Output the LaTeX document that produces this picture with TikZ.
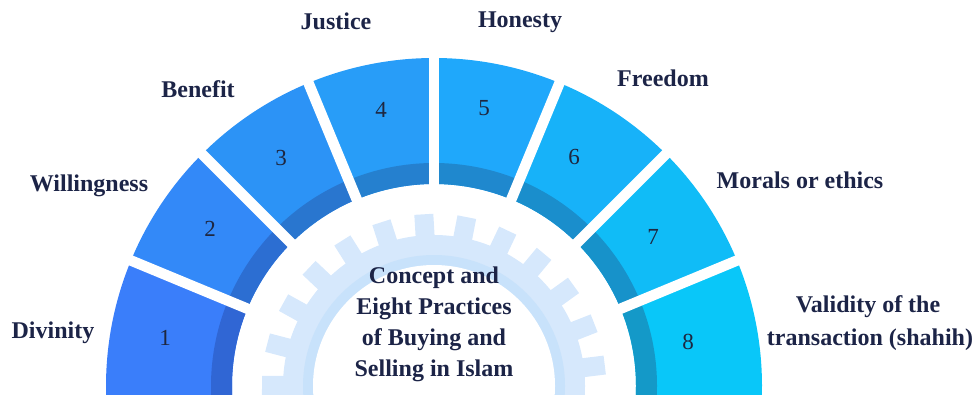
\documentclass[tikz,border=0pt]{standalone}
\usepackage{fontspec}
\setmainfont{Liberation Serif}
\definecolor{navy}{HTML}{1C2447}
\definecolor{numc}{HTML}{1E2740}
\definecolor{gearc}{HTML}{D6E8FC}
\definecolor{ringc}{HTML}{C8E2FB}
\definecolor{sA}{HTML}{3A7EFA}\definecolor{bA}{HTML}{3066D4}
\definecolor{sB}{HTML}{3389F8}\definecolor{bB}{HTML}{2C6ED2}
\definecolor{sC}{HTML}{2C93F6}\definecolor{bC}{HTML}{2976CF}
\definecolor{sD}{HTML}{289DF8}\definecolor{bD}{HTML}{2580CF}
\definecolor{sE}{HTML}{1FA8FB}\definecolor{bE}{HTML}{1F88CE}
\definecolor{sF}{HTML}{17B2F9}\definecolor{bF}{HTML}{1A8ECC}
\definecolor{sG}{HTML}{10BCF7}\definecolor{bG}{HTML}{1792CA}
\definecolor{sH}{HTML}{09C7F9}\definecolor{bH}{HTML}{1499C8}
% one coloured sector of the fan: start angle, end angle, main colour, band colour
\newcommand\fanseg[4]{%
  \fill[#3] (#1:202) -- (#1:328) arc[start angle=#1, end angle=#2, radius=328]
    -- (#2:202) arc[start angle=#2, end angle=#1, radius=202] -- cycle;
  \fill[#4] (#1:202) -- (#1:223) arc[start angle=#1, end angle=#2, radius=223]
    -- (#2:202) arc[start angle=#2, end angle=#1, radius=202] -- cycle;
}
\begin{document}
\begin{tikzpicture}[x=1pt,y=1pt,
  lab/.style={font=\fontsize{24}{28}\selectfont\bfseries, text=navy, inner sep=0pt, anchor=base},
  num/.style={font=\fontsize{23}{28}\selectfont, text=numc, inner sep=0pt}]
\useasboundingbox (0,0) rectangle (976,394);
\clip (0,0) rectangle (976,394);
\begin{scope}[shift={(434,8)}]
  % fan of eight sectors
  \fanseg{185}{157.5}{sA}{bA}
  \fanseg{157.5}{135}{sB}{bB}
  \fanseg{135}{112.5}{sC}{bC}
  \fanseg{112.5}{90}{sD}{bD}
  \fanseg{90}{67.5}{sE}{bE}
  \fanseg{67.5}{45}{sF}{bF}
  \fanseg{45}{22.5}{sG}{bG}
  \fanseg{22.5}{-5}{sH}{bH}
  % white separators
  \foreach \g in {157.5,135,112.5,90,67.5,45,22.5}
    \draw[white, line width=10.5] (\g:185) -- (\g:345);
  % gear
  \foreach \k in {-1,...,13}{
    \pgfmathsetmacro\t{7+14.4*\k}
    \fill[gearc, rotate=\t-90] (-9.5,145) rectangle (9.5,172);
  }
  \fill[gearc] (0,0) circle[radius=151];
  \fill[ringc] (0,0) circle[radius=131];
  \fill[white] (0,0) circle[radius=121];
\end{scope}
% sector numbers
\node[num] (n1) at (165,56) {1};
\node[num] (n2) at (210,165) {2};
\node[num] (n3) at (281,236) {3};
\node[num] (n4) at (381,284) {4};
\node[num] (n5) at (484,286) {5};
\node[num] (n6) at (574,237) {6};
\node[num] (n7) at (653,157) {7};
\node[num] (n8) at (688,52) {8};
% sector labels
\node[lab] (l1) at (53,56) {Divinity};
\node[lab] (l2) at (89,203) {Willingness};
\node[lab] (l3) at (198,296) {Benefit};
\node[lab] (l4) at (336,364) {Justice};
\node[lab] (l5) at (520,366) {Honesty};
\node[lab] (l6) at (663,307) {Freedom};
\node[lab] (l7) at (800,205) {Morals or ethics};
\node[lab] (l8a) at (868,82) {Validity of the};
\node[lab] (l8b) at (870,49) {transaction (shahih)};
% centre title
\node[lab] (t1) at (434,111) {Concept and};
\node[lab] (t2) at (434,80) {Eight Practices};
\node[lab] (t3) at (434,49) {of Buying and};
\node[lab] (t4) at (434,18) {Selling in Islam};
\end{tikzpicture}
\end{document}
